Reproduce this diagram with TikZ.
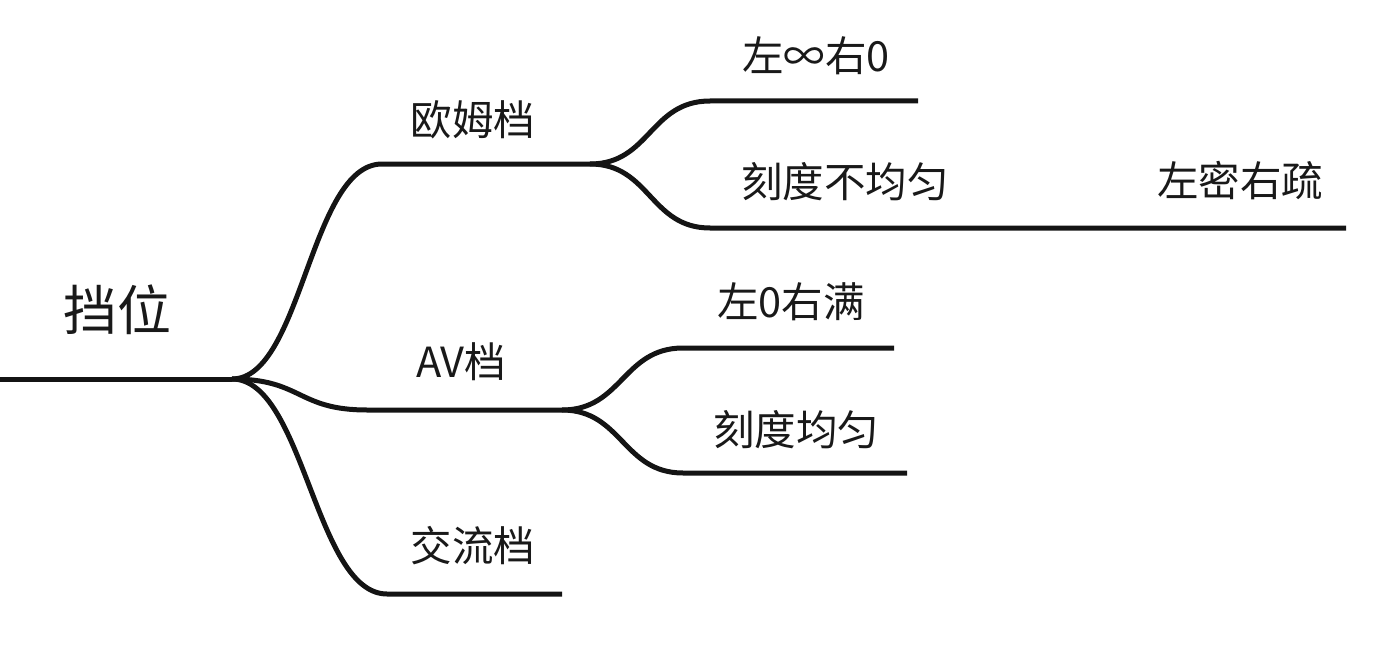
\documentclass[tikz,border=0pt]{standalone}
\usepackage{fontspec}
\setmainfont{Noto Sans CJK SC}
\begin{document}
\begin{tikzpicture}[x=1pt,y=-1pt,
  branch/.style={line width=5pt,color=black!92},
  lbl/.style={inner sep=0pt,font=\fontsize{41.5}{45}\selectfont,color=black!90},
  rootlbl/.style={inner sep=0pt,font=\fontsize{54}{58}\selectfont,color=black!90}]
\useasboundingbox (0,0) rectangle (1400,658);
% coordinates
\coordinate (s) at (0,379);
\coordinate (r) at (232,379);
\coordinate (o1) at (382,164);
\coordinate (o2) at (590,164);
\coordinate (oa1) at (710,101);
\coordinate (oa2) at (918,101);
\coordinate (ob1) at (710,228);
\coordinate (ob2) at (1346,228);
\coordinate (a1) at (367,410);
\coordinate (a2) at (562,410);
\coordinate (aa1) at (683,348);
\coordinate (aa2) at (894,348);
\coordinate (ab1) at (683,473);
\coordinate (ab2) at (907,473);
\coordinate (c1) at (387,594);
\coordinate (c2) at (562,594);
% root
\draw[branch] (s) -- (r);
% ohm branch
\draw[branch] (r) .. controls +(70,0) and +(-72,0) .. (o1) -- (o2);
\draw[branch] (o2) .. controls +(60,0) and +(-60,0) .. (oa1) -- (oa2);
\draw[branch] (o2) .. controls +(60,0) and +(-60,0) .. (ob1) -- (ob2);
% AV branch
\draw[branch] (r) .. controls +(70,0) and +(-70,0) .. (a1) -- (a2);
\draw[branch] (a2) .. controls +(60,0) and +(-60,0) .. (aa1) -- (aa2);
\draw[branch] (a2) .. controls +(60,0) and +(-60,0) .. (ab1) -- (ab2);
% AC branch
\draw[branch] (r) .. controls +(72,0) and +(-72,0) .. (c1) -- (c2);
% labels
\node[rootlbl] (root) at (117,310) {挡位};
\node[lbl] (ohm) at (473,120) {欧姆档};
\node[lbl] (av) at (461,362) {AV档};
\node[lbl] (ac) at (473,546) {交流档};
\node[lbl] (oa) at (816,56) {左∞右0};
\node[lbl] (ob) at (845,182) {刻度不均匀};
\node[lbl] (obb) at (1240,181) {左密右疏};
\node[lbl] (aa) at (791,302) {左0右满};
\node[lbl] (ab) at (796,430) {刻度均匀};
\end{tikzpicture}
\end{document}
